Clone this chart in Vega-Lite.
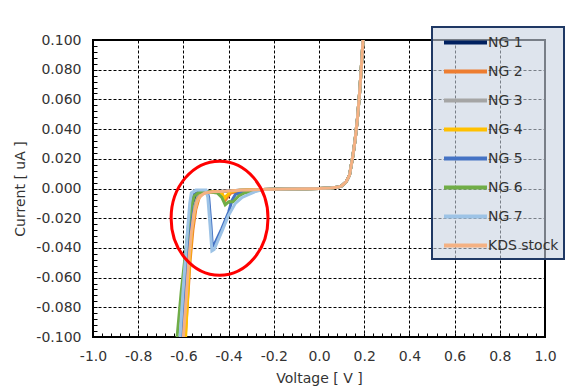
{
  "$schema": "https://vega.github.io/schema/vega-lite/v6.json",
  "width": 452,
  "height": 297,
  "autosize": {"type": "none"},
  "padding": {"left": 93, "top": 40, "right": 42, "bottom": 55},
  "background": "white",
  "config": {"view": {"stroke": "#000000", "strokeWidth": 2}, "font": "DejaVu Sans"},
  "layer": [
    {
      "data": {"values": [
        {"s": "NG 1", "V": -0.62, "I": -0.12}, {"s": "NG 1", "V": -0.61, "I": -0.1}, {"s": "NG 1", "V": -0.596, "I": -0.07}, {"s": "NG 1", "V": -0.583, "I": -0.045}, {"s": "NG 1", "V": -0.57, "I": -0.025}, {"s": "NG 1", "V": -0.558, "I": -0.012}, {"s": "NG 1", "V": -0.545, "I": -0.006}, {"s": "NG 1", "V": -0.525, "I": -0.003}, {"s": "NG 1", "V": -0.47, "I": -0.0022}, {"s": "NG 1", "V": -0.42, "I": -0.0018}, {"s": "NG 1", "V": -0.35, "I": -0.0012},
        {"s": "NG 1", "V": -0.25, "I": -0.0007}, {"s": "NG 1", "V": -0.15, "I": -0.0003}, {"s": "NG 1", "V": -0.05, "I": -0.0001}, {"s": "NG 1", "V": 0, "I": 0}, {"s": "NG 1", "V": 0.05, "I": 0.0003}, {"s": "NG 1", "V": 0.08, "I": 0.0008}, {"s": "NG 1", "V": 0.1, "I": 0.0018}, {"s": "NG 1", "V": 0.12, "I": 0.0045}, {"s": "NG 1", "V": 0.135, "I": 0.009}, {"s": "NG 1", "V": 0.15, "I": 0.022}, {"s": "NG 1", "V": 0.16, "I": 0.033}, {"s": "NG 1", "V": 0.17, "I": 0.047}, {"s": "NG 1", "V": 0.18, "I": 0.065}, {"s": "NG 1", "V": 0.19, "I": 0.088}, {"s": "NG 1", "V": 0.2, "I": 0.113}, {"s": "NG 1", "V": 0.21, "I": 0.14},

        {"s": "NG 2", "V": -0.6, "I": -0.12}, {"s": "NG 2", "V": -0.592, "I": -0.1}, {"s": "NG 2", "V": -0.58, "I": -0.072}, {"s": "NG 2", "V": -0.57, "I": -0.048}, {"s": "NG 2", "V": -0.558, "I": -0.028}, {"s": "NG 2", "V": -0.545, "I": -0.014}, {"s": "NG 2", "V": -0.53, "I": -0.006}, {"s": "NG 2", "V": -0.51, "I": -0.003}, {"s": "NG 2", "V": -0.46, "I": -0.002}, {"s": "NG 2", "V": -0.43, "I": -0.003}, {"s": "NG 2", "V": -0.415, "I": -0.008}, {"s": "NG 2", "V": -0.405, "I": -0.006}, {"s": "NG 2", "V": -0.39, "I": -0.003}, {"s": "NG 2", "V": -0.35, "I": -0.0015},
        {"s": "NG 2", "V": -0.25, "I": -0.0007}, {"s": "NG 2", "V": -0.15, "I": -0.0003}, {"s": "NG 2", "V": -0.05, "I": -0.0001}, {"s": "NG 2", "V": 0, "I": 0}, {"s": "NG 2", "V": 0.05, "I": 0.0003}, {"s": "NG 2", "V": 0.08, "I": 0.0008}, {"s": "NG 2", "V": 0.1, "I": 0.0018}, {"s": "NG 2", "V": 0.12, "I": 0.0045}, {"s": "NG 2", "V": 0.135, "I": 0.009}, {"s": "NG 2", "V": 0.15, "I": 0.022}, {"s": "NG 2", "V": 0.16, "I": 0.033}, {"s": "NG 2", "V": 0.17, "I": 0.047}, {"s": "NG 2", "V": 0.18, "I": 0.065}, {"s": "NG 2", "V": 0.19, "I": 0.088}, {"s": "NG 2", "V": 0.2, "I": 0.113}, {"s": "NG 2", "V": 0.21, "I": 0.14},

        {"s": "NG 3", "V": -0.615, "I": -0.12}, {"s": "NG 3", "V": -0.605, "I": -0.1}, {"s": "NG 3", "V": -0.59, "I": -0.07}, {"s": "NG 3", "V": -0.578, "I": -0.045}, {"s": "NG 3", "V": -0.565, "I": -0.025}, {"s": "NG 3", "V": -0.552, "I": -0.012}, {"s": "NG 3", "V": -0.538, "I": -0.006}, {"s": "NG 3", "V": -0.52, "I": -0.003}, {"s": "NG 3", "V": -0.47, "I": -0.0022}, {"s": "NG 3", "V": -0.42, "I": -0.0018}, {"s": "NG 3", "V": -0.35, "I": -0.0012},
        {"s": "NG 3", "V": -0.25, "I": -0.0007}, {"s": "NG 3", "V": -0.15, "I": -0.0003}, {"s": "NG 3", "V": -0.05, "I": -0.0001}, {"s": "NG 3", "V": 0, "I": 0}, {"s": "NG 3", "V": 0.05, "I": 0.0003}, {"s": "NG 3", "V": 0.08, "I": 0.0008}, {"s": "NG 3", "V": 0.1, "I": 0.0018}, {"s": "NG 3", "V": 0.12, "I": 0.0045}, {"s": "NG 3", "V": 0.135, "I": 0.009}, {"s": "NG 3", "V": 0.15, "I": 0.022}, {"s": "NG 3", "V": 0.16, "I": 0.033}, {"s": "NG 3", "V": 0.17, "I": 0.047}, {"s": "NG 3", "V": 0.18, "I": 0.065}, {"s": "NG 3", "V": 0.19, "I": 0.088}, {"s": "NG 3", "V": 0.2, "I": 0.113}, {"s": "NG 3", "V": 0.21, "I": 0.14},

        {"s": "NG 4", "V": -0.595, "I": -0.12}, {"s": "NG 4", "V": -0.59, "I": -0.1}, {"s": "NG 4", "V": -0.582, "I": -0.075}, {"s": "NG 4", "V": -0.572, "I": -0.047}, {"s": "NG 4", "V": -0.562, "I": -0.028}, {"s": "NG 4", "V": -0.55, "I": -0.015}, {"s": "NG 4", "V": -0.535, "I": -0.007}, {"s": "NG 4", "V": -0.515, "I": -0.003}, {"s": "NG 4", "V": -0.46, "I": -0.002}, {"s": "NG 4", "V": -0.43, "I": -0.003}, {"s": "NG 4", "V": -0.42, "I": -0.007}, {"s": "NG 4", "V": -0.41, "I": -0.005}, {"s": "NG 4", "V": -0.39, "I": -0.002}, {"s": "NG 4", "V": -0.35, "I": -0.0012},
        {"s": "NG 4", "V": -0.25, "I": -0.0007}, {"s": "NG 4", "V": -0.15, "I": -0.0003}, {"s": "NG 4", "V": -0.05, "I": -0.0001}, {"s": "NG 4", "V": 0, "I": 0}, {"s": "NG 4", "V": 0.05, "I": 0.0003}, {"s": "NG 4", "V": 0.08, "I": 0.0008}, {"s": "NG 4", "V": 0.1, "I": 0.0018}, {"s": "NG 4", "V": 0.12, "I": 0.0045}, {"s": "NG 4", "V": 0.135, "I": 0.009}, {"s": "NG 4", "V": 0.15, "I": 0.022}, {"s": "NG 4", "V": 0.16, "I": 0.033}, {"s": "NG 4", "V": 0.17, "I": 0.047}, {"s": "NG 4", "V": 0.18, "I": 0.065}, {"s": "NG 4", "V": 0.19, "I": 0.088}, {"s": "NG 4", "V": 0.2, "I": 0.113}, {"s": "NG 4", "V": 0.21, "I": 0.14},

        {"s": "NG 5", "V": -0.62, "I": -0.12}, {"s": "NG 5", "V": -0.612, "I": -0.1}, {"s": "NG 5", "V": -0.598, "I": -0.07}, {"s": "NG 5", "V": -0.584, "I": -0.045}, {"s": "NG 5", "V": -0.572, "I": -0.025}, {"s": "NG 5", "V": -0.562, "I": -0.01}, {"s": "NG 5", "V": -0.552, "I": -0.004}, {"s": "NG 5", "V": -0.53, "I": -0.002}, {"s": "NG 5", "V": -0.495, "I": -0.002}, {"s": "NG 5", "V": -0.488, "I": -0.006}, {"s": "NG 5", "V": -0.478, "I": -0.025}, {"s": "NG 5", "V": -0.472, "I": -0.039}, {"s": "NG 5", "V": -0.464, "I": -0.038}, {"s": "NG 5", "V": -0.43, "I": -0.027}, {"s": "NG 5", "V": -0.4, "I": -0.016}, {"s": "NG 5", "V": -0.385, "I": -0.008}, {"s": "NG 5", "V": -0.37, "I": -0.004}, {"s": "NG 5", "V": -0.34, "I": -0.0025}, {"s": "NG 5", "V": -0.3, "I": -0.0015},
        {"s": "NG 5", "V": -0.25, "I": -0.0007}, {"s": "NG 5", "V": -0.15, "I": -0.0003}, {"s": "NG 5", "V": -0.05, "I": -0.0001}, {"s": "NG 5", "V": 0, "I": 0}, {"s": "NG 5", "V": 0.05, "I": 0.0003}, {"s": "NG 5", "V": 0.08, "I": 0.0008}, {"s": "NG 5", "V": 0.1, "I": 0.0018}, {"s": "NG 5", "V": 0.12, "I": 0.0045}, {"s": "NG 5", "V": 0.135, "I": 0.009}, {"s": "NG 5", "V": 0.15, "I": 0.022}, {"s": "NG 5", "V": 0.16, "I": 0.033}, {"s": "NG 5", "V": 0.17, "I": 0.047}, {"s": "NG 5", "V": 0.18, "I": 0.065}, {"s": "NG 5", "V": 0.19, "I": 0.088}, {"s": "NG 5", "V": 0.2, "I": 0.113}, {"s": "NG 5", "V": 0.21, "I": 0.14},

        {"s": "NG 6", "V": -0.635, "I": -0.12}, {"s": "NG 6", "V": -0.628, "I": -0.1}, {"s": "NG 6", "V": -0.61, "I": -0.07}, {"s": "NG 6", "V": -0.592, "I": -0.045}, {"s": "NG 6", "V": -0.578, "I": -0.025}, {"s": "NG 6", "V": -0.565, "I": -0.012}, {"s": "NG 6", "V": -0.552, "I": -0.005}, {"s": "NG 6", "V": -0.535, "I": -0.003}, {"s": "NG 6", "V": -0.5, "I": -0.002}, {"s": "NG 6", "V": -0.45, "I": -0.003}, {"s": "NG 6", "V": -0.43, "I": -0.006}, {"s": "NG 6", "V": -0.415, "I": -0.011}, {"s": "NG 6", "V": -0.4, "I": -0.009}, {"s": "NG 6", "V": -0.38, "I": -0.009}, {"s": "NG 6", "V": -0.355, "I": -0.005}, {"s": "NG 6", "V": -0.33, "I": -0.003}, {"s": "NG 6", "V": -0.3, "I": -0.002},
        {"s": "NG 6", "V": -0.25, "I": -0.0007}, {"s": "NG 6", "V": -0.15, "I": -0.0003}, {"s": "NG 6", "V": -0.05, "I": -0.0001}, {"s": "NG 6", "V": 0, "I": 0}, {"s": "NG 6", "V": 0.05, "I": 0.0003}, {"s": "NG 6", "V": 0.08, "I": 0.0008}, {"s": "NG 6", "V": 0.1, "I": 0.0018}, {"s": "NG 6", "V": 0.12, "I": 0.0045}, {"s": "NG 6", "V": 0.135, "I": 0.009}, {"s": "NG 6", "V": 0.15, "I": 0.022}, {"s": "NG 6", "V": 0.16, "I": 0.033}, {"s": "NG 6", "V": 0.17, "I": 0.047}, {"s": "NG 6", "V": 0.18, "I": 0.065}, {"s": "NG 6", "V": 0.19, "I": 0.088}, {"s": "NG 6", "V": 0.2, "I": 0.113}, {"s": "NG 6", "V": 0.21, "I": 0.14},

        {"s": "NG 7", "V": -0.625, "I": -0.12}, {"s": "NG 7", "V": -0.615, "I": -0.1}, {"s": "NG 7", "V": -0.602, "I": -0.07}, {"s": "NG 7", "V": -0.59, "I": -0.045}, {"s": "NG 7", "V": -0.58, "I": -0.025}, {"s": "NG 7", "V": -0.572, "I": -0.01}, {"s": "NG 7", "V": -0.565, "I": -0.003}, {"s": "NG 7", "V": -0.545, "I": -0.001}, {"s": "NG 7", "V": -0.5, "I": -0.001}, {"s": "NG 7", "V": -0.492, "I": -0.006}, {"s": "NG 7", "V": -0.482, "I": -0.025}, {"s": "NG 7", "V": -0.474, "I": -0.042}, {"s": "NG 7", "V": -0.464, "I": -0.041}, {"s": "NG 7", "V": -0.43, "I": -0.029}, {"s": "NG 7", "V": -0.4, "I": -0.018}, {"s": "NG 7", "V": -0.37, "I": -0.01}, {"s": "NG 7", "V": -0.34, "I": -0.006}, {"s": "NG 7", "V": -0.31, "I": -0.004}, {"s": "NG 7", "V": -0.28, "I": -0.002},
        {"s": "NG 7", "V": -0.25, "I": -0.0007}, {"s": "NG 7", "V": -0.15, "I": -0.0003}, {"s": "NG 7", "V": -0.05, "I": -0.0001}, {"s": "NG 7", "V": 0, "I": 0}, {"s": "NG 7", "V": 0.05, "I": 0.0003}, {"s": "NG 7", "V": 0.08, "I": 0.0008}, {"s": "NG 7", "V": 0.1, "I": 0.0018}, {"s": "NG 7", "V": 0.12, "I": 0.0045}, {"s": "NG 7", "V": 0.135, "I": 0.009}, {"s": "NG 7", "V": 0.15, "I": 0.022}, {"s": "NG 7", "V": 0.16, "I": 0.033}, {"s": "NG 7", "V": 0.17, "I": 0.047}, {"s": "NG 7", "V": 0.18, "I": 0.065}, {"s": "NG 7", "V": 0.19, "I": 0.088}, {"s": "NG 7", "V": 0.2, "I": 0.113}, {"s": "NG 7", "V": 0.21, "I": 0.14},

        {"s": "KDS stock", "V": -0.61, "I": -0.12}, {"s": "KDS stock", "V": -0.6, "I": -0.1}, {"s": "KDS stock", "V": -0.588, "I": -0.075}, {"s": "KDS stock", "V": -0.576, "I": -0.048}, {"s": "KDS stock", "V": -0.565, "I": -0.03}, {"s": "KDS stock", "V": -0.553, "I": -0.017}, {"s": "KDS stock", "V": -0.54, "I": -0.009}, {"s": "KDS stock", "V": -0.525, "I": -0.005}, {"s": "KDS stock", "V": -0.505, "I": -0.003}, {"s": "KDS stock", "V": -0.47, "I": -0.0022}, {"s": "KDS stock", "V": -0.42, "I": -0.0018}, {"s": "KDS stock", "V": -0.35, "I": -0.0012},
        {"s": "KDS stock", "V": -0.25, "I": -0.0007}, {"s": "KDS stock", "V": -0.15, "I": -0.0003}, {"s": "KDS stock", "V": -0.05, "I": -0.0001}, {"s": "KDS stock", "V": 0, "I": 0}, {"s": "KDS stock", "V": 0.05, "I": 0.0003}, {"s": "KDS stock", "V": 0.08, "I": 0.0008}, {"s": "KDS stock", "V": 0.1, "I": 0.0018}, {"s": "KDS stock", "V": 0.12, "I": 0.0045}, {"s": "KDS stock", "V": 0.135, "I": 0.009}, {"s": "KDS stock", "V": 0.15, "I": 0.022}, {"s": "KDS stock", "V": 0.16, "I": 0.033}, {"s": "KDS stock", "V": 0.17, "I": 0.047}, {"s": "KDS stock", "V": 0.18, "I": 0.065}, {"s": "KDS stock", "V": 0.19, "I": 0.088}, {"s": "KDS stock", "V": 0.2, "I": 0.113}, {"s": "KDS stock", "V": 0.21, "I": 0.14}
      ]},
      "mark": {"type": "line", "strokeWidth": 3, "clip": true},
      "encoding": {
        "x": {
          "field": "V", "type": "quantitative",
          "scale": {"domain": [-1, 1], "nice": false, "zero": false},
          "axis": {
            "title": "Voltage [ V ]",
            "values": [-1, -0.96, -0.92, -0.88, -0.84, -0.8, -0.76, -0.72, -0.68, -0.64, -0.6, -0.56, -0.52, -0.48, -0.44, -0.4, -0.36, -0.32, -0.28, -0.24, -0.2, -0.16, -0.12, -0.08, -0.04, 0, 0.04, 0.08, 0.12, 0.16, 0.2, 0.24, 0.28, 0.32, 0.36, 0.4, 0.44, 0.48, 0.52, 0.56, 0.6, 0.64, 0.68, 0.72, 0.76, 0.8, 0.84, 0.88, 0.92, 0.96, 1],
            "tickCount": 200,
            "labelExpr": "abs(datum.value*5 - round(datum.value*5)) < 0.01 ? replace(format(datum.value, '.1f'), '\u2212', '-') : ''",
            "grid": true,
            "gridColor": "#000000",
            "gridDash": [3, 2],
            "gridWidth": 1,
            "gridOpacity": {"condition": {"test": "abs(datum.value*5 - round(datum.value*5)) < 0.01", "value": 1}, "value": 0},
            "domain": false,
            "tickColor": "#000000",
            "tickSize": -4,
            "labelFontSize": 14,
            "labelColor": "#333333",
            "labelPadding": 16,
            "labelFlush": false,
            "labelOverlap": false,
            "labelBound": false,
            "titleFontSize": 14,
            "titleFontWeight": "normal",
            "titleColor": "#333333",
            "titlePadding": 8
          }
        },
        "y": {
          "field": "I", "type": "quantitative",
          "scale": {"domain": [-0.1, 0.1], "nice": false, "zero": false},
          "axis": {
            "title": "Current [ uA ]",
            "values": [-0.1, -0.096, -0.092, -0.088, -0.084, -0.08, -0.076, -0.072, -0.068, -0.064, -0.06, -0.056, -0.052, -0.048, -0.044, -0.04, -0.036, -0.032, -0.028, -0.024, -0.02, -0.016, -0.012, -0.008, -0.004, 0, 0.004, 0.008, 0.012, 0.016, 0.02, 0.024, 0.028, 0.032, 0.036, 0.04, 0.044, 0.048, 0.052, 0.056, 0.06, 0.064, 0.068, 0.072, 0.076, 0.08, 0.084, 0.088, 0.092, 0.096, 0.1],
            "tickCount": 200,
            "labelExpr": "abs(datum.value*50 - round(datum.value*50)) < 0.01 ? replace(format(datum.value, '.3f'), '\u2212', '-') : ''",
            "grid": true,
            "gridColor": "#000000",
            "gridDash": [3, 2],
            "gridWidth": 1,
            "gridOpacity": {"condition": {"test": "abs(datum.value*50 - round(datum.value*50)) < 0.01", "value": 1}, "value": 0},
            "domain": false,
            "tickColor": "#000000",
            "tickSize": -4,
            "labelFontSize": 14,
            "labelColor": "#333333",
            "labelPadding": 16,
            "labelFlush": false,
            "labelOverlap": false,
            "labelBound": false,
            "titleFontSize": 14,
            "titleFontWeight": "normal",
            "titleColor": "#333333",
            "titlePadding": 8
          }
        },
        "color": {
          "field": "s", "type": "nominal",
          "scale": {
            "domain": ["NG 1", "NG 2", "NG 3", "NG 4", "NG 5", "NG 6", "NG 7", "KDS stock"],
            "range": ["#002060", "#ed7d31", "#a5a5a5", "#ffc000", "#4472c4", "#70ad47", "#9dc3e6", "#f4b183"]
          },
          "legend": {
            "title": null,
            "orient": "none",
            "legendX": 339,
            "legendY": -13,
            "symbolType": "M -2.53 0 L 2.53 0",
            "symbolSize": 289,
            "symbolStrokeWidth": 4,
            "symbolOffset": 18,
            "labelFontSize": 14,
            "labelColor": "#333333",
            "labelOffset": 12,
            "rowPadding": 10,
            "padding": 5,
            "fillColor": "rgba(200,210,225,0.6)",
            "strokeColor": "#1f3864",
            "encode": {"legend": {"update": {"strokeWidth": {"value": 2}}}}
          }
        }
      }
    },
    {
      "data": {"values": [{"V": -0.44, "I": -0.02}]},
      "mark": {"type": "point", "shape": "M -0.85 0 A 0.85 1 0 1 0 0.85 0 A 0.85 1 0 1 0 -0.85 0", "size": 12996, "filled": false, "stroke": "#ff0000", "strokeWidth": 3, "opacity": 1, "clip": false},
      "encoding": {
        "x": {"field": "V", "type": "quantitative"},
        "y": {"field": "I", "type": "quantitative"}
      }
    }
  ]
}
